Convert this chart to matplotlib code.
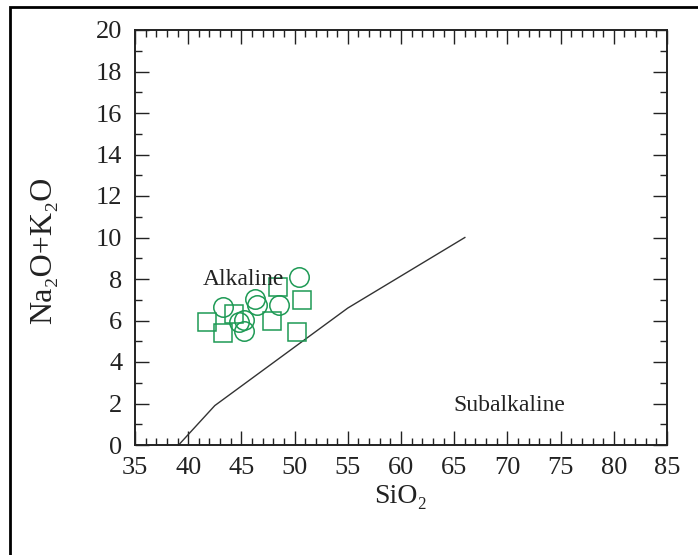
import matplotlib
matplotlib.use("Agg")
import matplotlib.pyplot as plt
from matplotlib.ticker import MultipleLocator
from matplotlib.patches import Rectangle

plt.rcParams['font.family'] = ['Liberation Serif', 'DejaVu Serif']

# Data
square_sio2 = [41.8, 43.3, 44.3, 47.85, 50.2, 50.7, 48.4]
square_alk = [5.92, 5.38, 6.29, 6.00, 5.45, 6.99, 7.63]
circle_sio2 = [43.3, 44.77, 45.24, 45.24, 46.28, 46.42, 48.55, 50.46]
circle_alk = [6.63, 5.93, 6.02, 5.49, 7.06, 6.77, 6.76, 8.09]
boundary_sio2 = [39.1, 42.5, 55.0, 66.0]
boundary_alk = [0.0, 1.9, 6.6, 10.0]

green = '#1e9a55'

fig = plt.figure(figsize=(6.98, 5.55), dpi=100)
ax = fig.add_axes([135/698, 110/555, 532/698, 415/555])

ax.plot(boundary_sio2, boundary_alk, color='#333333', lw=1.0)
ax.plot(square_sio2, square_alk, linestyle='none', marker='s', markersize=13.5,
        markerfacecolor='none', markeredgecolor=green, markeredgewidth=1.1)
ax.plot(circle_sio2, circle_alk, linestyle='none', marker='o', markersize=14,
        markerfacecolor='none', markeredgecolor=green, markeredgewidth=1.1)

ax.text(41.4, 7.7, 'Alkaline', fontsize=17, va='baseline', ha='left', color='#222222')
ax.text(64.9, 1.64, 'Subalkaline', fontsize=17, va='baseline', ha='left', color='#222222')

ax.set_xlim(35, 85)
ax.set_ylim(0, 20)
ax.xaxis.set_major_locator(MultipleLocator(5))
ax.xaxis.set_minor_locator(MultipleLocator(1))
ax.yaxis.set_major_locator(MultipleLocator(2))
ax.yaxis.set_minor_locator(MultipleLocator(1))
ax.tick_params(which='both', direction='in', top=True, right=True, width=1.0, color='#222222')
ax.tick_params(which='major', length=10, labelsize=19, labelcolor='#222222')
ax.tick_params(axis='x', which='major', pad=9)
ax.tick_params(axis='y', which='major', pad=9)
ax.tick_params(which='minor', length=5)
for sp in ax.spines.values():
    sp.set_linewidth(1.4)
    sp.set_color('#222222')

ax.set_xlabel('SiO\u2082', fontsize=20, color='#222222')
ax.xaxis.set_label_coords(0.5, -0.093)
ax.set_ylabel('Na\u2082O+K\u2082O', fontsize=23, color='#222222')
ax.yaxis.set_label_coords(-0.145, 0.47)

fig.patches.append(Rectangle((10/698, -0.1), 1.2, 0.1 + 1 - 7/555, transform=fig.transFigure,
                             fill=False, edgecolor='black', lw=2.0))

fig.savefig('out.png', dpi=100)
